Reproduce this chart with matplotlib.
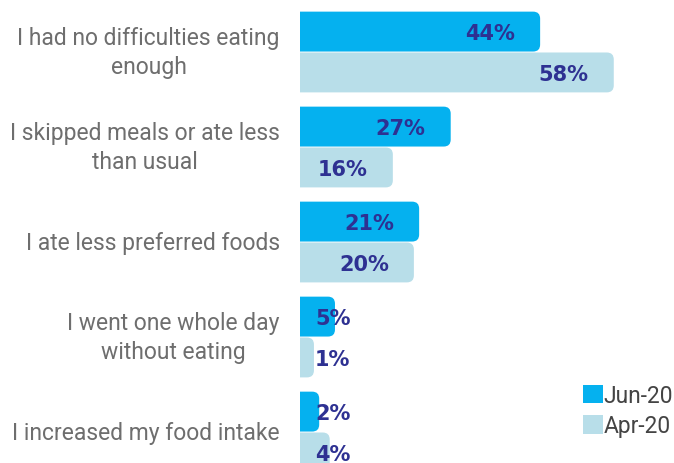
import matplotlib
matplotlib.use("Agg")
import matplotlib.pyplot as plt
from matplotlib.patches import FancyBboxPatch, Patch

categories = ["I had no difficulties eating\nenough",
              "I skipped meals or ate less\nthan usual",
              "I ate less preferred foods",
              "I went one whole day\nwithout eating",
              "I increased my food intake"]
jun20 = [44, 27, 21, 5, 2]
apr20 = [58, 16, 20, 1, 4]
series_names = ["Jun-20", "Apr-20"]
colors = ["#05B1EF", "#B8DEE9"]

W, H = 674, 464
fig = plt.figure(figsize=(W/100, H/100), dpi=100)
ax = fig.add_axes([300/W, 0, 1 - 300/W, 1])
x0, x1 = -1.65, 69.45
ax.set_xlim(x0, x1)
ax.set_ylim(4.326, -0.558)
ax.axis("off")

px_x = 5.26   # pixels per % unit
px_y = 95.0   # pixels per category unit
offs = [-0.215, 0.215]
hgt = 0.42
r = 7 / px_x
for s, vals in enumerate([jun20, apr20]):
    for i, v in enumerate(vals):
        y = i + offs[s]
        left = x0 - r
        p = FancyBboxPatch((left, y - hgt/2), v - left, hgt,
                           boxstyle=f"round,pad=0,rounding_size={r}",
                           mutation_aspect=px_x/px_y,
                           fc=colors[s], ec="none")
        ax.add_patch(p)
        ax.annotate(f"{v}%", xy=(max(v, 12.7), y), xytext=(-18, -1),
                    textcoords="offset points", ha="right", va="center",
                    fontsize=15, fontweight="bold", color="#2E3192",
                    family="DejaVu Sans")

for i, c in enumerate(categories):
    ax.annotate(c, xy=(x0, i), xytext=(-14.5, 0), textcoords="offset points",
                ha="right", va="center", multialignment="center",
                fontsize=16.5, color="#6E6E6E", family="Roboto",
                linespacing=1.3, annotation_clip=False)

handles = [Patch(fc=colors[k], ec="none", label=series_names[k]) for k in range(2)]
leg = fig.legend(handles=handles, loc="upper left", bbox_to_anchor=(583/W, 1 - 385/H),
                 frameon=False, handlelength=0.88, handleheight=0.88,
                 handletextpad=0.02, labelspacing=0.32, borderpad=0, borderaxespad=0,
                 prop={"family": "Roboto", "size": 16.4})
for t in leg.get_texts():
    t.set_color("#444444")

fig.savefig("out.png", dpi=100)
